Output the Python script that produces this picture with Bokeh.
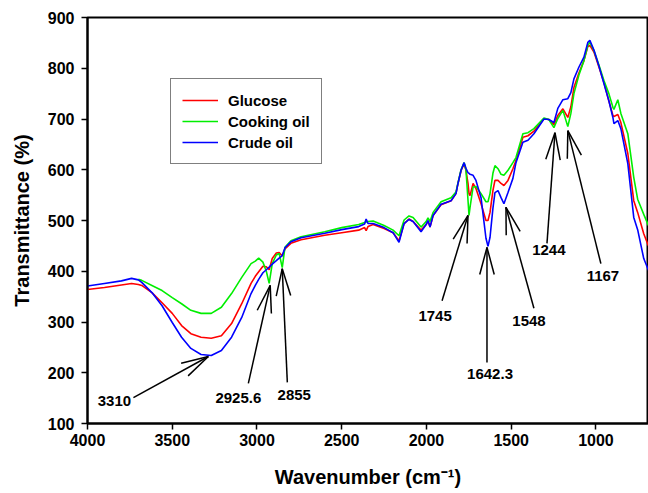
import numpy as np
from bokeh.plotting import figure
from bokeh.models import Range1d, Legend, LegendItem, FixedTicker
from bokeh.embed import file_html
from bokeh.resources import INLINE
from bokeh.core.properties import value

# ---------------- data ----------------
wavenumber = [4000, 3900, 3800, 3740, 3700, 3680, 3620, 3560, 3500, 3445, 3390, 3330,
              3270, 3210, 3150, 3090, 3035, 3010, 2990, 2965, 2945, 2928, 2910, 2886,
              2869, 2851, 2835, 2800, 2740, 2600, 2500, 2400, 2365, 2356, 2345, 2315,
              2250, 2197, 2162, 2132, 2103, 2079, 2032, 2002, 1991, 1979, 1961, 1914,
              1855, 1826, 1814, 1796, 1778, 1767, 1755, 1749, 1743, 1725, 1708, 1678,
              1649, 1637, 1625, 1608, 1596, 1578, 1560, 1543, 1519, 1490, 1472, 1431,
              1401, 1366, 1307, 1278, 1248, 1225, 1195, 1166, 1148, 1130, 1101, 1071,
              1048, 1036, 1012, 983, 953, 924, 900, 894, 871, 853, 812, 777, 754, 718, 690]

glucose = [364, 368, 373, 376, 374, 372, 358, 338, 317, 293, 277, 270,
           268, 273, 297, 336, 376, 390, 399, 410, 409, 403, 425, 436,
           437, 430, 444, 455, 462, 471, 476, 481, 486, 480, 488, 492,
           484, 476, 460, 494, 503, 498, 481, 492, 499, 487, 510, 531,
           539, 553, 573, 598, 612, 599, 573, 553, 549, 573, 563, 533,
           500, 500, 516, 559, 579, 579, 573, 569, 579, 602, 618, 664,
           667, 676, 700, 699, 689, 707, 720, 703, 724, 762, 790, 815,
           843, 845, 832, 803, 772, 736, 707, 705, 709, 693, 632, 539, 516, 474, 450]

cooking_oil = [None, None, None, None, 384, 382, 372, 362, 348, 336, 323, 317,
               317, 329, 356, 388, 415, 420, 426, 418, 400, 376, 415, 432,
               435, 407, 447, 460, 468, 478, 486, 492, 496, 497, 498, 499,
               490, 481, 470, 501, 509, 506, 487, 498, 505, 498, 516, 537,
               545, 556, 574, 600, 614, 600, 540, 510, 526, 566, 567, 553,
               537, 537, 553, 593, 608, 602, 591, 589, 599, 614, 624, 671,
               673, 681, 702, 699, 683, 701, 717, 685, 711, 750, 786, 815,
               845, 851, 835, 807, 776, 750, 723, 719, 738, 711, 671, 585, 542, 512, 490]

crude_oil = [371, 376, 381, 386, 383, 378, 358, 332, 299, 270, 248, 236,
             234, 244, 270, 309, 356, 372, 384, 397, 403, 408, 414, 421,
             426, 431, 446, 458, 466, 475, 482, 488, 493, 503, 494, 494,
             486, 476, 457, 494, 502, 498, 478, 492, 500, 487, 510, 532,
             539, 553, 573, 599, 614, 603, 594, 593, 591, 589, 579, 545,
             465, 449, 467, 524, 555, 559, 545, 533, 555, 583, 614, 654,
             658, 671, 700, 699, 693, 721, 738, 740, 752, 779, 802, 822,
             851, 855, 836, 805, 770, 736, 703, 691, 697, 681, 612, 506, 482, 425, 402]

series_names = ["Glucose", "Cooking oil", "Crude oil"]

# peak annotations: label text, arrow tip, arrow tail, label centre (data units)
peak_labels = ["3310", "2925.6", "2855", "1745", "1642.3", "1548", "1244", "1167"]
tip_x = [3287, 2922, 2851, 1755, 1643, 1531, 1242, 1166]
tip_y = [232, 372, 405, 510, 447, 526, 673, 677]
tail_x = [3729, 3051, 2821, 1908, 1643, 1366, 1289, 971]
tail_y = [151, 179, 181, 342, 220, 327, 455, 415]
label_x = [3841, 3110, 2780, 1949, 1625, 1395, 1278, 959]
label_y = [145, 151, 157, 311, 197, 301, 441, 390]

x_ticks = [4000, 3500, 3000, 2500, 2000, 1500, 1000]
y_ticks = [100, 200, 300, 400, 500, 600, 700, 800, 900]

# ---------------- figure ----------------
FONT = "Liberation Sans"
W, H = 648, 493
BL, BR, BT, BB = 87, 0, 17, 70
x0, x1 = 4000, 690
y0, y1 = 100, 900

p = figure(width=W, height=H, x_range=Range1d(x0, x1), y_range=Range1d(y0, y1),
           output_backend="svg", toolbar_location=None,
           min_border_left=BL, min_border_right=BR, min_border_top=BT, min_border_bottom=BB)

p.xgrid.visible = False
p.ygrid.visible = False
p.outline_line_color = "black"
p.outline_line_width = 2
p.background_fill_color = "white"
p.border_fill_color = "white"

p.xaxis.ticker = FixedTicker(ticks=x_ticks)
p.yaxis.ticker = FixedTicker(ticks=y_ticks)
for ax in (p.xaxis, p.yaxis):
    ax.axis_line_width = 2
    ax.axis_line_color = "black"
    ax.major_tick_line_width = 1.5
    ax.major_tick_line_color = "black"
    ax.major_tick_in = 0
    ax.major_tick_out = 6
    ax.minor_tick_line_color = None
    ax.major_label_text_font = FONT
    ax.major_label_text_font_style = "bold"
    ax.major_label_text_font_size = "16px"
    ax.major_label_text_color = "black"
    ax.axis_label_text_font = FONT
    ax.axis_label_text_font_style = "bold"
    ax.axis_label_text_color = "black"

p.xaxis.axis_label = "Wavenumber (cm\u207b\u00b9)"
p.xaxis.axis_label_text_font_size = "20px"
p.xaxis.major_label_standoff = 4
p.xaxis.axis_label_standoff = 17
p.yaxis.axis_label = "Transmittance (%)"
p.yaxis.axis_label_text_font_size = "20px"
p.yaxis.major_label_standoff = 7
p.yaxis.axis_label_standoff = 12

wn = np.array(wavenumber, dtype=float)
colors = ["#ff0000", "#00ee00", "#0000ff"]
renderers = []
for ys, c in zip([glucose, cooking_oil, crude_oil], colors):
    yy = np.array([np.nan if v is None else v for v in ys], dtype=float)
    r = p.line(wn, yy, line_color=c, line_width=1.6)
    renderers.append(r)

# arrows
p.segment(tail_x, tail_y, tip_x, tip_y, line_color="black", line_width=1.5)
sx = (W - BL - BR) / abs(x0 - x1)   # px per data unit (x, reversed)
sy = (H - BT - BB) / (y1 - y0)      # px per data unit (y)
head_len, head_ang = 28.0, np.radians(15)
wx0, wy0, wx1, wy1 = [], [], [], []
for tx, ty, lx, ly in zip(tip_x, tip_y, tail_x, tail_y):
    vx = -(lx - tx) * sx
    vy = (ly - ty) * sy
    ang = np.arctan2(vy, vx)
    for s in (-1, 1):
        a = ang + s * head_ang
        wx0.append(tx)
        wy0.append(ty)
        wx1.append(tx - head_len * np.cos(a) / sx)
        wy1.append(ty + head_len * np.sin(a) / sy)
p.segment(wx0, wy0, wx1, wy1, line_color="black", line_width=1.5)

p.text(x=label_x, y=label_y, text=peak_labels, text_align="center", text_baseline="middle",
       text_font=value(FONT), text_font_style="bold", text_font_size="15px", text_color="black")

legend = Legend(items=[LegendItem(label=n, renderers=[r]) for n, r in zip(series_names, renderers)],
                location=(83, 259))
legend.label_text_font = FONT
legend.label_text_font_style = "bold"
legend.label_text_font_size = "15px"
legend.label_text_color = "black"
legend.glyph_width = 36
legend.glyph_height = 20
legend.label_height = 20
legend.label_standoff = 10
legend.spacing = 1
legend.padding = 11
legend.margin = 0
legend.border_line_color = "black"
legend.border_line_width = 1.5
legend.background_fill_alpha = 1.0
p.add_layout(legend, "center")

open("out.html", "w").write(file_html(p, INLINE))
